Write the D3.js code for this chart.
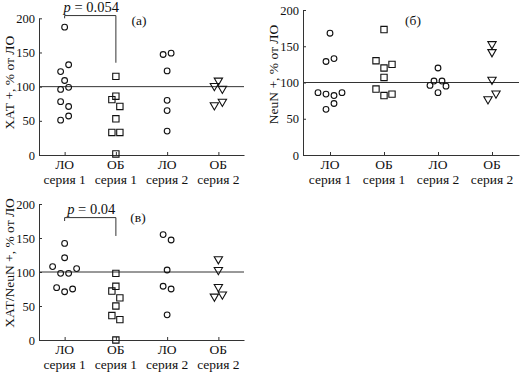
<!DOCTYPE html>
<html>
<head>
<meta charset="utf-8">
<script src="https://cdn.jsdelivr.net/npm/d3@7"></script>
<style>
  body { margin: 0; background: #fff; }
  svg { display: block; }
  text { font-family: "Liberation Serif", "Times New Roman", serif; fill: #111; }
</style>
</head>
<body>
<div id="chart"></div>
<script>
// categories along x (two lines each)
var catTop = ["ЛО", "ОБ", "ЛО", "ОБ"];
var catBottom = ["серия 1", "серия 1", "серия 2", "серия 2"];
var yTicks = [0, 50, 100, 150, 200];

// each point: [value, dodge slot]
// panel (а) ХАТ+
var aLO1 = [[187,0],[122,-1],[132,1],[109,0],[96,-1],[99,1],[78,-1],[71,1],[51,-1],[57,1]];
var aOB1 = [[115,0],[81,-1],[86,0],[71,1],[53,0],[33,-1],[33,1],[1.5,0]];
var aLO2 = [[147,-1],[149,1],[123,0],[80,0],[65,0],[35,0]];
var aOB2 = [[109,0],[101,-1],[97,1],[73,-1],[78,1]];

// panel (б) NeuN+
var bLO1 = [[168,0],[129,-1],[133,1],[86,-3],[84,-1],[82,1],[86,3],[63,-1],[71,1]];
var bOB1 = [[173,0],[130,-2],[120,0],[125,2],[107,0],[91,-2],[82,0],[84,2]];
var bLO2 = [[120,0],[96,-2],[102,-1],[102,1],[95,2],[86,0]];
var bOB2 = [[153,0],[142,0],[104,0],[77,-1],[85,1]];

// panel (в) ХАТ/NeuN+
var cLO1 = [[142,0],[121,0],[108,-3],[98,-1],[98,1],[105,3],[77,-2],[71,0],[75,2]];
var cOB1 = [[98,0],[79,0],[72,-1],[62,1],[50,0],[36,-1],[30,1],[0,0]];
var cLO2 = [[155,-1],[147,1],[103,0],[79,-1],[75,1],[37,0]];
var cOB2 = [[119,0],[103,0],[78,0],[64,-1],[67,1]];

// significance brackets: [text, bar level, left end, right end]
var aBracket = ["0.054", 204, 200, 135];
var cBracket = ["0.04", 180, 175, 153];

var shapes = ["circle", "square", "circle", "triangle"];

var width = 521, height = 372;

var svg = d3.select("#chart").append("svg")
    .attr("width", width)
    .attr("height", height);

var panels = [
  { left: 39, right: 244, bottom: 155, top: 18.3, groups: [aLO1, aOB1, aLO2, aOB2],
    title: "ХАТ +, % от ЛО", titleX: 9, titleShift: -4, label: "(а)", labelX: 139, labelY: 25, bracket: aBracket },
  { left: 303, right: 519, bottom: 155, top: 10, groups: [bLO1, bOB1, bLO2, bOB2],
    title: "NeuN +, % от ЛО", titleX: 273, titleShift: -8, label: "(б)", labelX: 413, labelY: 25, bracket: null },
  { left: 39, right: 244, bottom: 340, top: 204, groups: [cLO1, cOB1, cLO2, cOB2],
    title: "ХАТ/NeuN +, % от ЛО", titleX: 9, titleShift: -9, label: "(в)", labelX: 138, labelY: 222, bracket: cBracket }
];

panels.forEach(drawPanel);

function symbolPath(kind) {
  if (kind == "square") return d3.symbol().type(d3.symbolSquare).size(40)();
  if (kind == "triangle") return d3.symbol().type(d3.symbolTriangle).size(30)();
  return d3.symbol().type(d3.symbolCircle).size(26)();
}

function drawPanel(p) {
  var x = d3.scalePoint()
      .domain([0, 1, 2, 3])
      .range([p.left, p.right])
      .padding(0.5);

  var y = d3.scaleLinear()
      .domain([0, 200])
      .range([p.bottom, p.top]);

  var g = svg.append("g");

  // y axis, ticks pointing inside
  var ya = g.append("g")
      .attr("transform", "translate(" + p.left + ",0)")
      .call(d3.axisLeft(y).tickValues(yTicks).tickSizeInner(-3).tickSizeOuter(0).tickPadding(4));
  ya.selectAll("text").style("font-size", "12.5px").style("font-family", "Liberation Serif").attr("fill", "#111");

  var xa = g.append("g")
      .attr("transform", "translate(0," + p.bottom + ")")
      .call(d3.axisBottom(x).tickSizeInner(-3).tickSizeOuter(0).tickFormat(""));

  g.selectAll(".domain, .tick line").attr("stroke", "#333");

  // category labels
  var cl = g.append("g").selectAll("text")
      .data(d3.range(4))
      .enter();
  cl.append("text")
      .attr("x", function(d) { return x(d); })
      .attr("y", p.bottom + 14)
      .attr("text-anchor", "middle")
      .style("font-size", "13.5px")
      .text(function(d) { return catTop[d]; });
  cl.append("text")
      .attr("x", function(d) { return x(d); })
      .attr("y", p.bottom + 29)
      .attr("text-anchor", "middle")
      .style("font-size", "13.5px")
      .text(function(d) { return catBottom[d]; });

  // 100% reference line
  g.append("line")
      .attr("x1", p.left).attr("x2", p.right)
      .attr("y1", y(100)).attr("y2", y(100))
      .attr("stroke", "#333");

  // points
  p.groups.forEach(function(pts, i) {
    g.append("g").selectAll("path")
      .data(pts)
      .enter().append("path")
      .attr("d", symbolPath(shapes[i]))
      .attr("transform", function(d) {
        var t = "translate(" + (x(i) + d[1] * 4) + "," + y(d[0]) + ")";
        return shapes[i] == "triangle" ? t + " rotate(180)" : t;
      })
      .attr("fill", "none")
      .attr("stroke", "#111")
      .attr("stroke-width", 1.1);
  });

  // y title
  g.append("text")
      .attr("transform", "translate(" + p.titleX + "," + ((p.top + p.bottom) / 2 + p.titleShift) + ") rotate(-90)")
      .attr("dy", "0.35em")
      .attr("text-anchor", "middle")
      .style("font-size", "13.5px")
      .text(p.title);

  // panel letter
  g.append("text")
      .attr("x", p.labelX)
      .attr("y", p.labelY)
      .attr("text-anchor", "middle")
      .style("font-size", "13.5px")
      .text(p.label);

  if (p.bracket) {
    var b = p.bracket;
    g.append("path")
        .attr("d", "M" + x(0) + "," + y(b[2]) + "V" + y(b[1]) + "H" + x(1) + "V" + y(b[3]))
        .attr("fill", "none")
        .attr("stroke", "#333");
    var t = g.append("text")
        .attr("x", (x(0) + x(1)) / 2 + 1)
        .attr("y", y(b[1]) - 4)
        .attr("text-anchor", "middle")
        .style("font-size", "14.5px");
    t.append("tspan").style("font-style", "italic").text("p");
    t.append("tspan").text(" = " + b[0]);
  }
}
</script>
</body>
</html>
